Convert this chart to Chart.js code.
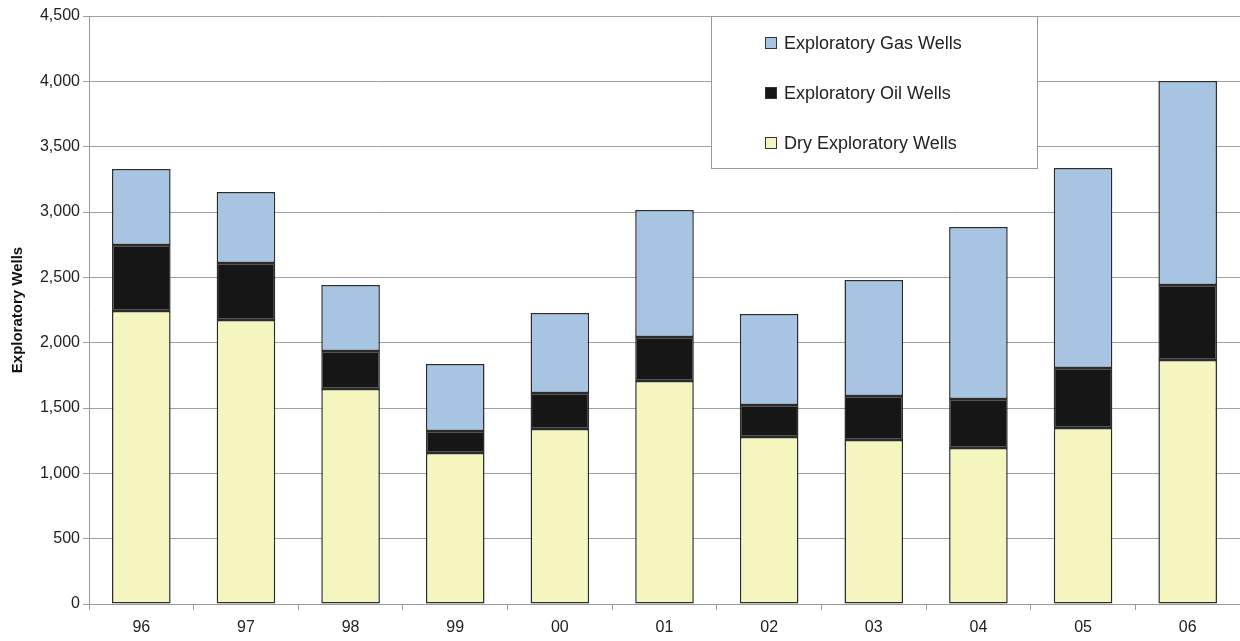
<!DOCTYPE html>
<html>
<head>
<meta charset="utf-8">
<script src="https://cdn.jsdelivr.net/npm/chart.js@4/dist/chart.umd.min.js"></script>
<style>
  html, body { margin: 0; padding: 0; background: #fff; }
  #wrap { width: 1240px; height: 641px; position: relative; }
</style>
</head>
<body>
<div id="wrap"><canvas id="wellsChart"></canvas></div>
<script>
const years = ['96', '97', '98', '99', '00', '01', '02', '03', '04', '05', '06'];
const dryWells = [2242, 2173, 1645, 1156, 1339, 1707, 1278, 1255, 1194, 1347, 1867];
const oilWells = [505, 437, 291, 168, 276, 336, 245, 337, 375, 459, 574];
const gasWells = [582, 543, 505, 513, 612, 972, 696, 888, 1316, 1531, 1561];

// legend drawn as a boxed panel inside the plot, like the original
const boxLegend = {
    id: 'boxLegend',
    afterDraw(chart) {
        const ctx = chart.ctx;
        const x = 711, y = 16, w = 326, h = 152;
        ctx.save();
        ctx.fillStyle = '#fff';
        ctx.fillRect(x, y, w, h);
        ctx.strokeStyle = '#9a9a9a';
        ctx.lineWidth = 1;
        ctx.strokeRect(x + 0.5, y + 0.5, w, h);
        const items = chart.data.datasets.slice().reverse();
        ctx.font = '18px "Liberation Sans", Arial, sans-serif';
        ctx.textBaseline = 'middle';
        items.forEach((ds, i) => {
            const cy = 43 + i * 50;
            ctx.fillStyle = ds.backgroundColor;
            ctx.fillRect(765, cy - 6, 12, 12);
            ctx.strokeStyle = '#333';
            ctx.strokeRect(765.5, cy - 5.5, 11, 11);
            ctx.fillStyle = '#222';
            ctx.fillText(ds.label, 784, cy + 1);
        });
        ctx.restore();
    }
};

const ctx = document.getElementById('wellsChart').getContext('2d');
new Chart(ctx, {
    type: 'bar',
    data: {
        labels: years,
        datasets: [
            { label: 'Dry Exploratory Wells', data: dryWells, backgroundColor: '#f5f5c0' },
            { label: 'Exploratory Oil Wells', data: oilWells, backgroundColor: '#161616' },
            { label: 'Exploratory Gas Wells', data: gasWells, backgroundColor: '#a7c5e2' }
        ].map(d => Object.assign(d, {
            borderColor: '#2b2b2b',
            borderWidth: 1.5,
            borderSkipped: false,
            categoryPercentage: 1,
            barPercentage: 0.56
        }))
    },
    options: {
        responsive: true,
        maintainAspectRatio: false,
        animation: false,
        layout: { padding: { top: 16, right: 0, bottom: 0, left: 0 } },
        plugins: {
            legend: { display: false },
            tooltip: { enabled: false }
        },
        scales: {
            x: {
                stacked: true,
                afterFit(scale) { scale.height = 37; },
                grid: {
                    offset: true,
                    drawOnChartArea: false,
                    color: '#999',
                    tickLength: 6
                },
                border: { color: '#999' },
                ticks: {
                    color: '#222',
                    font: { family: '"Liberation Sans", Arial, sans-serif', size: 16 },
                    padding: 8
                }
            },
            y: {
                stacked: true,
                min: 0,
                max: 4500,
                afterFit(scale) { scale.width = 89; },
                grid: { color: '#a0a0a0', tickLength: 6 },
                border: { color: '#999' },
                ticks: {
                    stepSize: 500,
                    color: '#222',
                    font: { family: '"Liberation Sans", Arial, sans-serif', size: 16 },
                    callback: v => v.toLocaleString('en-US')
                },
                title: {
                    display: true,
                    text: 'Exploratory Wells',
                    color: '#111',
                    font: { family: '"Liberation Sans", Arial, sans-serif', size: 15, weight: 'bold' },
                    padding: { top: 9, bottom: 4 }
                }
            }
        }
    },
    plugins: [boxLegend]
});
</script>
</body>
</html>
